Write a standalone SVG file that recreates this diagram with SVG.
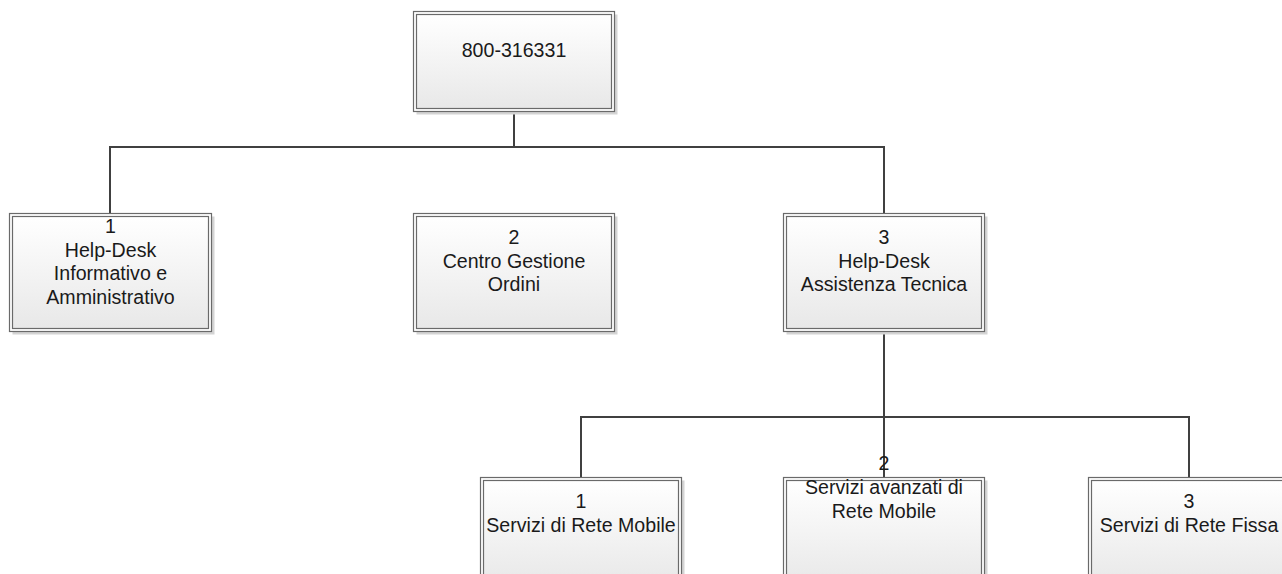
<svg xmlns="http://www.w3.org/2000/svg" width="1282" height="574" viewBox="0 0 1282 574">
<defs>
<linearGradient id="g" x1="0" y1="0" x2="0" y2="1">
<stop offset="0" stop-color="#ffffff"/>
<stop offset="1" stop-color="#e8e8e8"/>
</linearGradient>
<style>
.sh{fill:#d4d4d4;stroke:none}
.o{fill:#ffffff;stroke:#6a6a6a;stroke-width:1.2}
.i{fill:url(#g);stroke:#6a6a6a;stroke-width:1.2}
.t{font-family:"Liberation Sans",Arial,sans-serif;font-size:19.6px;fill:#1a1a1a;text-anchor:middle}
.c{fill:none;stroke:#404040;stroke-width:2}
</style>
</defs>
<rect width="1282" height="574" fill="#ffffff"/>
<g id="connectors">
<path class="c" d="M514 112V147M109 147H885M110 146V213M884 146V213M884 332V417M580 417H1190M581 416V477M884 416V477M1189 416V477"/>
</g>
<g id="n0">
<rect class="sh" x="416.5" y="14.5" width="201" height="100"/>
<rect class="o" x="413.5" y="11.5" width="201" height="100"/>
<rect class="i" x="416.5" y="14.5" width="195" height="94"/>
<text class="t" x="514" y="57">800-316331</text>
</g>
<g id="n1">
<rect class="sh" x="12.5" y="216.5" width="202" height="118"/>
<rect class="o" x="9.5" y="213.5" width="202" height="118"/>
<rect class="i" x="12.5" y="216.5" width="196" height="112"/>
<text class="t" x="110.5" y="232.5">1</text>
<text class="t" x="110.5" y="256.5">Help-Desk</text>
<text class="t" x="110.5" y="280">Informativo e</text>
<text class="t" x="110.5" y="303.5">Amministrativo</text>
</g>
<g id="n2">
<rect class="sh" x="416.5" y="216.5" width="201" height="118"/>
<rect class="o" x="413.5" y="213.5" width="201" height="118"/>
<rect class="i" x="416.5" y="216.5" width="195" height="112"/>
<text class="t" x="514" y="244">2</text>
<text class="t" x="514" y="267.5">Centro Gestione</text>
<text class="t" x="514" y="291">Ordini</text>
</g>
<g id="n3">
<rect class="sh" x="786.5" y="216.5" width="201" height="118"/>
<rect class="o" x="783.5" y="213.5" width="201" height="118"/>
<rect class="i" x="786.5" y="216.5" width="195" height="112"/>
<text class="t" x="884" y="244">3</text>
<text class="t" x="884" y="267.5">Help-Desk</text>
<text class="t" x="884" y="291">Assistenza Tecnica</text>
</g>
<g id="n4">
<rect class="sh" x="483.5" y="480.5" width="201" height="110"/>
<rect class="o" x="480.5" y="477.5" width="201" height="110"/>
<rect class="i" x="483.5" y="480.5" width="195" height="104"/>
<text class="t" x="581" y="508">1</text>
<text class="t" x="581" y="532">Servizi di Rete Mobile</text>
</g>
<g id="n5">
<rect class="sh" x="786.5" y="480.5" width="201" height="110"/>
<rect class="o" x="783.5" y="477.5" width="201" height="110"/>
<rect class="i" x="786.5" y="480.5" width="195" height="104"/>
<text class="t" x="884" y="470">2</text>
<text class="t" x="884" y="494">Servizi avanzati di</text>
<text class="t" x="884" y="517.5">Rete Mobile</text>
</g>
<g id="n6">
<rect class="sh" x="1091.5" y="480.5" width="201" height="110"/>
<rect class="o" x="1088.5" y="477.5" width="201" height="110"/>
<rect class="i" x="1091.5" y="480.5" width="195" height="104"/>
<text class="t" x="1189" y="508">3</text>
<text class="t" x="1189" y="532">Servizi di Rete Fissa</text>
</g>
</svg>
